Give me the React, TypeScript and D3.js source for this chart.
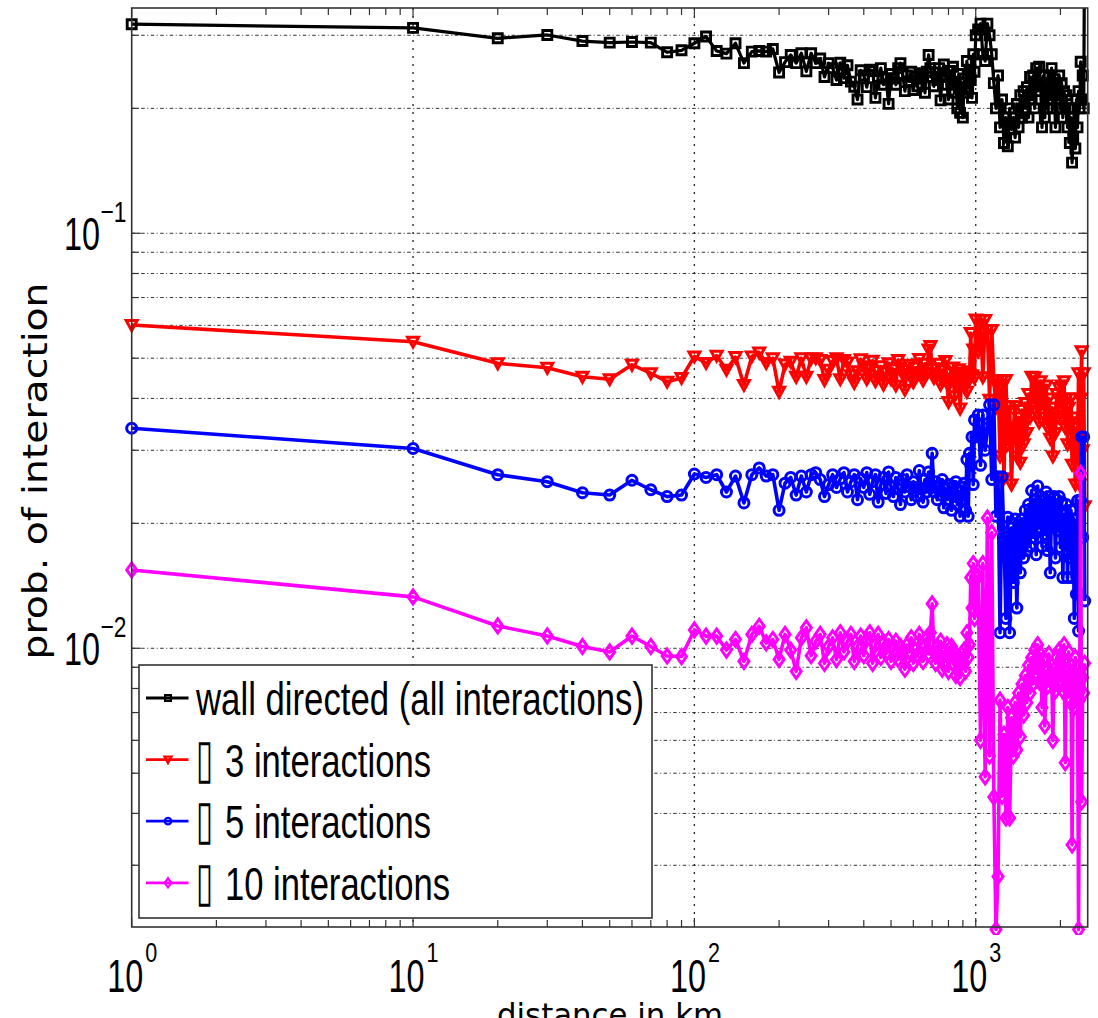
import React from 'react';
import * as d3 from 'd3';

// distance in km (x categories)
const distances = [
  1,
  10, 20, 30, 40, 50, 60, 70, 80, 90, 100,
  110, 120, 130, 140, 150, 160, 170, 180, 190, 200,
  210, 220, 230, 240, 250, 260, 270, 280, 290, 300,
  310, 320, 330, 340, 350, 360, 370, 380, 390, 400,
  410, 420, 430, 440, 450, 460, 470, 480, 490, 500,
  510, 520, 530, 540, 550, 560, 570, 580, 590, 600,
  610, 620, 630, 640, 650, 660, 670, 680, 690, 700,
  710, 720, 730, 740, 750, 760, 770, 780, 790, 800,
  810, 820, 830, 840, 850, 860, 870, 880, 890, 900,
  910, 920, 930, 940, 950, 960, 970, 980, 990, 1000,
  1020, 1040, 1060, 1080, 1100, 1120, 1140, 1160, 1180, 1200,
  1220, 1240, 1260, 1280, 1300, 1320, 1340, 1360, 1380, 1400,
  1420, 1440, 1460, 1480, 1500, 1520, 1540, 1560, 1580, 1600,
  1620, 1640, 1660, 1680, 1700, 1720, 1740, 1760, 1780, 1800,
  1820, 1840, 1860, 1880, 1900, 1920, 1940, 1960, 1980, 2000,
  2020, 2040, 2060, 2080, 2100, 2120, 2140, 2160, 2180, 2200,
  2220, 2240, 2260, 2280, 2300, 2320, 2340, 2360, 2380, 2400,
  2420, 2440,
];

// wall directed (all interactions)
const wallAll = [
  0.319,
  0.3125, 0.295, 0.3005, 0.2905, 0.288, 0.289, 0.288, 0.273, 0.276, 0.287,
  0.298, 0.275, 0.271, 0.287, 0.257, 0.274, 0.275, 0.274, 0.278, 0.244,
  0.2585, 0.269, 0.257, 0.2715, 0.2455, 0.2715, 0.257, 0.2637, 0.238, 0.257,
  0.25, 0.234, 0.2575, 0.2365, 0.254, 0.232, 0.2255, 0.21, 0.247, 0.24,
  0.225, 0.248, 0.246, 0.212, 0.238, 0.25, 0.228, 0.236, 0.205, 0.242,
  0.236, 0.228, 0.25, 0.257, 0.242, 0.22, 0.24, 0.232, 0.245, 0.2215,
  0.238, 0.226, 0.243, 0.236, 0.24, 0.218, 0.245, 0.269, 0.25, 0.238,
  0.226, 0.244, 0.234, 0.25, 0.209, 0.238, 0.255, 0.24, 0.228, 0.21,
  0.246, 0.23, 0.252, 0.218, 0.232, 0.2, 0.242, 0.195, 0.222, 0.19,
  0.236, 0.218, 0.26, 0.225, 0.248, 0.234, 0.212, 0.27, 0.245, 0.3,
  0.31, 0.32, 0.27, 0.26, 0.32, 0.3, 0.27, 0.23, 0.2, 0.24,
  0.18, 0.21, 0.165, 0.19, 0.162, 0.2, 0.178, 0.19, 0.17, 0.205,
  0.18, 0.215, 0.19, 0.22, 0.2, 0.225, 0.19, 0.238, 0.21, 0.24,
  0.2, 0.25, 0.22, 0.252, 0.23, 0.18, 0.24, 0.19, 0.23, 0.2,
  0.24, 0.21, 0.25, 0.2, 0.235, 0.18, 0.23, 0.21, 0.24, 0.2,
  0.23, 0.19, 0.22, 0.2, 0.215, 0.18, 0.2, 0.165, 0.19, 0.148,
  0.17, 0.2, 0.16, 0.21, 0.18, 0.22, 0.2, 0.259, 0.21, 0.24,
  0.2, 0.6,
];

// at least 3 interactions
const atLeast3 = [
  0.0601,
  0.0548, 0.0486, 0.0474, 0.0451, 0.0445, 0.0482, 0.046, 0.0439, 0.0448, 0.0505,
  0.0487, 0.0507, 0.0469, 0.0503, 0.0431, 0.0505, 0.0516, 0.0487, 0.05, 0.0415,
  0.0483, 0.049, 0.0451, 0.05, 0.0451, 0.0499, 0.05, 0.0495, 0.0443, 0.0469,
  0.0492, 0.05, 0.0445, 0.0495, 0.0488, 0.0455, 0.0436, 0.0465, 0.0497, 0.0478,
  0.0445, 0.0472, 0.0493, 0.044, 0.0465, 0.0478, 0.0432, 0.0462, 0.0486, 0.0445,
  0.047, 0.043, 0.0495, 0.0475, 0.0458, 0.042, 0.0468, 0.0482, 0.045, 0.0438,
  0.0475, 0.0455, 0.0498, 0.0463, 0.0442, 0.0485, 0.046, 0.0525, 0.0535, 0.047,
  0.0448, 0.0472, 0.0455, 0.0485, 0.0432, 0.0468, 0.0445, 0.0492, 0.0436, 0.0392,
  0.046, 0.0442, 0.0475, 0.0405, 0.0455, 0.0428, 0.047, 0.0378, 0.0448, 0.0462,
  0.0435, 0.0455, 0.0415, 0.0465, 0.0445, 0.0575, 0.0455, 0.0525, 0.0448, 0.062,
  0.052, 0.0618, 0.045, 0.0618, 0.0585, 0.0397, 0.0585, 0.0443, 0.038, 0.0443,
  0.029, 0.0443, 0.0257, 0.0443, 0.031, 0.0383, 0.0248, 0.034, 0.0383, 0.029,
  0.036, 0.028, 0.0375, 0.031, 0.039, 0.033, 0.041, 0.036, 0.0451, 0.039,
  0.045, 0.037, 0.0424, 0.035, 0.044, 0.039, 0.042, 0.036, 0.043, 0.034,
  0.04, 0.032, 0.038, 0.029, 0.036, 0.033, 0.041, 0.036, 0.0424, 0.038,
  0.043, 0.036, 0.044, 0.034, 0.04, 0.031, 0.038, 0.0342, 0.04, 0.0277,
  0.036, 0.031, 0.0248, 0.034, 0.029, 0.046, 0.0248, 0.04, 0.052, 0.03,
  0.046, 0.022,
];

// at least 5 interactions
const atLeast5 = [
  0.0339,
  0.0303, 0.0262, 0.0252, 0.0237, 0.0234, 0.0254, 0.0241, 0.0232, 0.0234, 0.0263,
  0.0258, 0.0262, 0.0238, 0.026, 0.0224, 0.0262, 0.0272, 0.026, 0.0262, 0.0215,
  0.025, 0.0258, 0.0234, 0.026, 0.0238, 0.0262, 0.0265, 0.0255, 0.0232, 0.0248,
  0.0262, 0.0244, 0.0256, 0.0265, 0.0238, 0.0252, 0.0262, 0.0228, 0.0256, 0.0244,
  0.0265, 0.0235, 0.0252, 0.0262, 0.0225, 0.0248, 0.0258, 0.0236, 0.0266, 0.0245,
  0.0232, 0.0258, 0.0242, 0.0222, 0.0255, 0.0238, 0.0262, 0.0245, 0.0228, 0.0252,
  0.0244, 0.0232, 0.0268, 0.0242, 0.0225, 0.0255, 0.0238, 0.0266, 0.0246, 0.0295,
  0.0238, 0.0252, 0.0228, 0.0245, 0.0234, 0.0255, 0.0218, 0.0242, 0.0228, 0.0248,
  0.0235, 0.0215, 0.0246, 0.0232, 0.0252, 0.0222, 0.0238, 0.0208, 0.0245, 0.0228,
  0.025, 0.0215, 0.0285, 0.0208, 0.0295, 0.0276, 0.0323, 0.0248, 0.0355, 0.0323,
  0.0365, 0.0276, 0.0365, 0.03, 0.034, 0.0386, 0.0255, 0.0386, 0.0208, 0.0259,
  0.0109, 0.0259, 0.0185, 0.0118, 0.0207, 0.0109, 0.0195, 0.0144, 0.0205, 0.0125,
  0.0198, 0.0152, 0.0205, 0.0165, 0.0215, 0.0172, 0.0222, 0.0176, 0.024, 0.0185,
  0.0228, 0.0168, 0.0246, 0.0195, 0.0232, 0.0176, 0.0228, 0.0188, 0.0238, 0.0172,
  0.0232, 0.0152, 0.0225, 0.0198, 0.0232, 0.0165, 0.0228, 0.0192, 0.0232, 0.0175,
  0.0225, 0.0148, 0.021, 0.0185, 0.0222, 0.0148, 0.0205, 0.0165, 0.0215, 0.0148,
  0.0205, 0.0118, 0.0198, 0.0135, 0.0227, 0.011, 0.0135, 0.0227, 0.0323, 0.0185,
  0.0323, 0.013,
];

// at least 10 interactions
const atLeast10 = [
  0.01544,
  0.0133, 0.01132, 0.01071, 0.0101, 0.0098, 0.0107, 0.0101, 0.00958, 0.00955, 0.01107,
  0.0107, 0.0107, 0.0099, 0.0105, 0.0093, 0.0108, 0.0113, 0.0103, 0.0105, 0.0094,
  0.0108, 0.0099, 0.0088, 0.0106, 0.0112, 0.0096, 0.0104, 0.0108, 0.0092, 0.0101,
  0.0106, 0.0094, 0.0109, 0.0098, 0.0104, 0.0108, 0.0093, 0.0101, 0.0107, 0.0096,
  0.0105, 0.0109, 0.0092, 0.0102, 0.0108, 0.0095, 0.0103, 0.0097, 0.0105, 0.0093,
  0.0099, 0.0104, 0.0094, 0.0101, 0.0096, 0.0089, 0.0102, 0.0098, 0.0106, 0.0092,
  0.0099, 0.0096, 0.0108, 0.0097, 0.0093, 0.0101, 0.0106, 0.0097, 0.0109, 0.0128,
  0.0098, 0.0092, 0.0101, 0.0095, 0.0104, 0.0089, 0.0098, 0.0093, 0.0102, 0.0088,
  0.0096, 0.0101, 0.0092, 0.0098, 0.0086, 0.0095, 0.0091, 0.0085, 0.0097, 0.0093,
  0.0099, 0.0088, 0.0109, 0.0095, 0.0102, 0.0148, 0.0125, 0.016, 0.0118, 0.0149,
  0.0149, 0.006, 0.016, 0.0049, 0.0206, 0.0055, 0.019, 0.00438, 0.0021, 0.00282,
  0.0075, 0.0044, 0.0062, 0.0039, 0.0072, 0.0039, 0.0068, 0.0055, 0.0074, 0.00569,
  0.0078, 0.00612, 0.0082, 0.0069, 0.0086, 0.0074, 0.0091, 0.0078, 0.0095, 0.0082,
  0.0099, 0.0087, 0.0102, 0.0083, 0.0097, 0.0072, 0.0094, 0.0065, 0.0088, 0.0081,
  0.0097, 0.0084, 0.0091, 0.006, 0.0089, 0.0079, 0.0095, 0.0082, 0.0099, 0.0084,
  0.0095, 0.0079, 0.0102, 0.0053, 0.0088, 0.0076, 0.0098, 0.0084, 0.0091, 0.00336,
  0.0088, 0.0072, 0.0095, 0.0079, 0.0085, 0.0021, 0.0075, 0.0264, 0.00427, 0.0085,
  0.0078, 0.0092,
];

const xTickDecades = [0, 1, 2, 3];
const yTickDecades = [-2, -1];
const legendLabels = ['wall directed (all interactions)', '3 interactions', '5 interactions', '10 interactions'];
const legendPrefix = ['', '\u25AF', '\u25AF', '\u25AF'];
const xLabel = 'distance in km';
const yLabel = 'prob. of interaction';

const W = 1098;
const H = 1018;
const M = { left: 131.7, right: 1087.7, top: 8, bottom: 927 };

type MarkerKind = 'square' | 'tri' | 'circle' | 'diamond';

function Marker({ kind, cx, cy, color, s = 1, sw = 2.2 }: { kind: MarkerKind; cx: number; cy: number; color: string; s?: number; sw?: number }) {
  if (kind === 'circle') {
    return <circle cx={cx} cy={cy} r={5 * s} fill="none" stroke={color} strokeWidth={sw} />;
  }
  let d = '';
  if (kind === 'square') {
    const h = 4.5 * s;
    d = `M${cx - h},${cy - h}h${2 * h}v${2 * h}h${-2 * h}Z`;
  } else if (kind === 'tri') {
    d = `M${cx - 5.5 * s},${cy - 4.5 * s}L${cx + 5.5 * s},${cy - 4.5 * s}L${cx},${cy + 5.5 * s}Z`;
  } else {
    d = `M${cx},${cy - 7 * s}L${cx + 5 * s},${cy}L${cx},${cy + 7 * s}L${cx - 5 * s},${cy}Z`;
  }
  return <path d={d} fill="none" stroke={color} strokeWidth={sw} strokeLinejoin="miter" />;
}

export default function App() {
  const x = d3.scaleLog().domain([1, 2500]).range([M.left, M.right]);
  const y = d3.scaleLog().domain([0.00213, 0.349]).range([M.bottom, M.top]);

  const series: { values: number[]; color: string; kind: MarkerKind; sw: number; msw: number }[] = [
    { values: wallAll, color: '#000000', kind: 'square', sw: 3.2, msw: 2.9 },
    { values: atLeast3, color: '#ff0000', kind: 'tri', sw: 3.6, msw: 3 },
    { values: atLeast5, color: '#0000ff', kind: 'circle', sw: 3.6, msw: 3 },
    { values: atLeast10, color: '#ff00ff', kind: 'diamond', sw: 3.6, msw: 3 },
  ];

  const line = (vals: number[]) =>
    d3.line<number>()
      .x((_, i) => x(distances[i]))
      .y((v) => y(v))(vals) || '';

  const yMinor: number[] = [];
  for (let dec = -3; dec <= -1; dec++) {
    for (let k = 1; k <= 9; k++) {
      const v = k * Math.pow(10, dec);
      if (v >= 0.00213 && v <= 0.349) yMinor.push(v);
    }
  }
  const xMinor: number[] = [];
  for (let dec = 0; dec <= 3; dec++) {
    for (let k = 1; k <= 9; k++) {
      const v = k * Math.pow(10, dec);
      if (v >= 1 && v <= 2500) xMinor.push(v);
    }
  }

  const axisColor = '#333';
  const tickFont = '"Liberation Sans", Arial, sans-serif';

  return (
    <svg width={W} height={H} style={{ position: 'absolute', left: 0, top: 0, display: 'block', background: '#fff' }}>
      <defs>
        <clipPath id="plotClip">
          <rect x={M.left - 8} y={M.top} width={M.right - M.left + 16} height={M.bottom - M.top + 8} />
        </clipPath>
      </defs>
      <rect x={0} y={0} width={W} height={H} fill="#fff" />

      {yMinor.map((v) => (
        <line key={'gy' + v} x1={M.left} x2={M.right} y1={y(v)} y2={y(v)} stroke="#333" strokeWidth={1} strokeDasharray="3.5,2.5,1,2.5" />
      ))}
      {xTickDecades.filter((d) => d > 0).map((d) => (
        <line key={'gx' + d} x1={x(Math.pow(10, d))} x2={x(Math.pow(10, d))} y1={M.top} y2={M.bottom} stroke="#222" strokeWidth={1.3} strokeDasharray="2,6" />
      ))}

      {xMinor.map((v) => {
        const major = xTickDecades.some((d) => Math.abs(Math.pow(10, d) - v) < 1e-9);
        const len = major ? 9 : 7;
        return (
          <g key={'tx' + v}>
            <line x1={x(v)} x2={x(v)} y1={M.bottom} y2={M.bottom - len} stroke={axisColor} strokeWidth={1.2} />
            <line x1={x(v)} x2={x(v)} y1={M.top} y2={M.top + len} stroke={axisColor} strokeWidth={1.2} />
          </g>
        );
      })}
      {yMinor.map((v) => {
        const major = yTickDecades.some((d) => Math.abs(Math.pow(10, d) - v) < 1e-12);
        const len = major ? 9 : 7;
        return (
          <g key={'ty' + v}>
            <line x1={M.left} x2={M.left + len} y1={y(v)} y2={y(v)} stroke={axisColor} strokeWidth={1.2} />
            <line x1={M.right} x2={M.right - len} y1={y(v)} y2={y(v)} stroke={axisColor} strokeWidth={1.2} />
          </g>
        );
      })}

      <g clipPath="url(#plotClip)">
        {series.map((s, si) => (
          <g key={'s' + si}>
            <path d={line(s.values)} fill="none" stroke={s.color} strokeWidth={s.sw} strokeLinejoin="round" />
            {s.values.map((v, i) => (
              <Marker key={i} kind={s.kind} cx={x(distances[i])} cy={y(v)} color={s.color} sw={s.msw} />
            ))}
          </g>
        ))}
      </g>

      <rect x={M.left} y={M.top} width={M.right - M.left} height={M.bottom - M.top} fill="none" stroke={axisColor} strokeWidth={1.6} />

      {xTickDecades.map((d) => {
        const tx = x(Math.pow(10, d));
        return (
          <g key={'xl' + d} fontFamily={tickFont} fill="#000">
            <text transform={`translate(${tx - 24.5},992) scale(0.704,1)`} fontSize={46}>10</text>
            <text transform={`translate(${tx + 13.5},962) scale(0.77,1)`} fontSize={28}>{String(d)}</text>
          </g>
        );
      })}

      {yTickDecades.map((d) => {
        const ty = y(Math.pow(10, d));
        return (
          <g key={'yl' + d} fontFamily={tickFont} fill="#000">
            <text transform={`translate(64,${ty + 17}) scale(0.704,1)`} fontSize={46}>10</text>
            <text transform={`translate(100.5,${ty - 11.5}) scale(0.76,1)`} fontSize={30}>{'\u2212' + String(-d)}</text>
          </g>
        );
      })}

      <text x={610} y={1026} fontSize={32} fontFamily='"DejaVu Sans", sans-serif' textAnchor="middle" textLength={226} lengthAdjust="spacingAndGlyphs">{xLabel}</text>
      <text transform="translate(47,471) rotate(-90)" fontSize={33} fontFamily='"DejaVu Sans", sans-serif' textAnchor="middle" textLength={377} lengthAdjust="spacingAndGlyphs">{yLabel}</text>

      <g>
        <rect x={139} y={665} width={513} height={253} fill="#fff" stroke={axisColor} strokeWidth={1.6} />
        {series.map((s, i) => {
          const ly = 698 + i * 61.6;
          const by = ly + 17;
          return (
            <g key={'lg' + i}>
              <line x1={146} x2={188.5} y1={ly} y2={ly} stroke={s.color} strokeWidth={2.8} />
              <Marker kind={s.kind} cx={168} cy={ly} color={s.color} s={0.65} sw={2.2} />
              {i === 0 ? (
                <text x={196} y={by} fontSize={46} fontFamily={tickFont} textLength={448} lengthAdjust="spacingAndGlyphs">{legendLabels[i]}</text>
              ) : (
                <text y={by} fontSize={46} fontFamily={tickFont}>
                  <tspan x={196} textLength={17} lengthAdjust="spacingAndGlyphs" fontSize={54} fontFamily='"DejaVu Sans", sans-serif'>{legendPrefix[i]}</tspan>
                  <tspan x={225} fontSize={46} textLength={i === 3 ? 225 : 206} lengthAdjust="spacingAndGlyphs">{legendLabels[i]}</tspan>
                </text>
              )}
            </g>
          );
        })}
      </g>
    </svg>
  );
}
